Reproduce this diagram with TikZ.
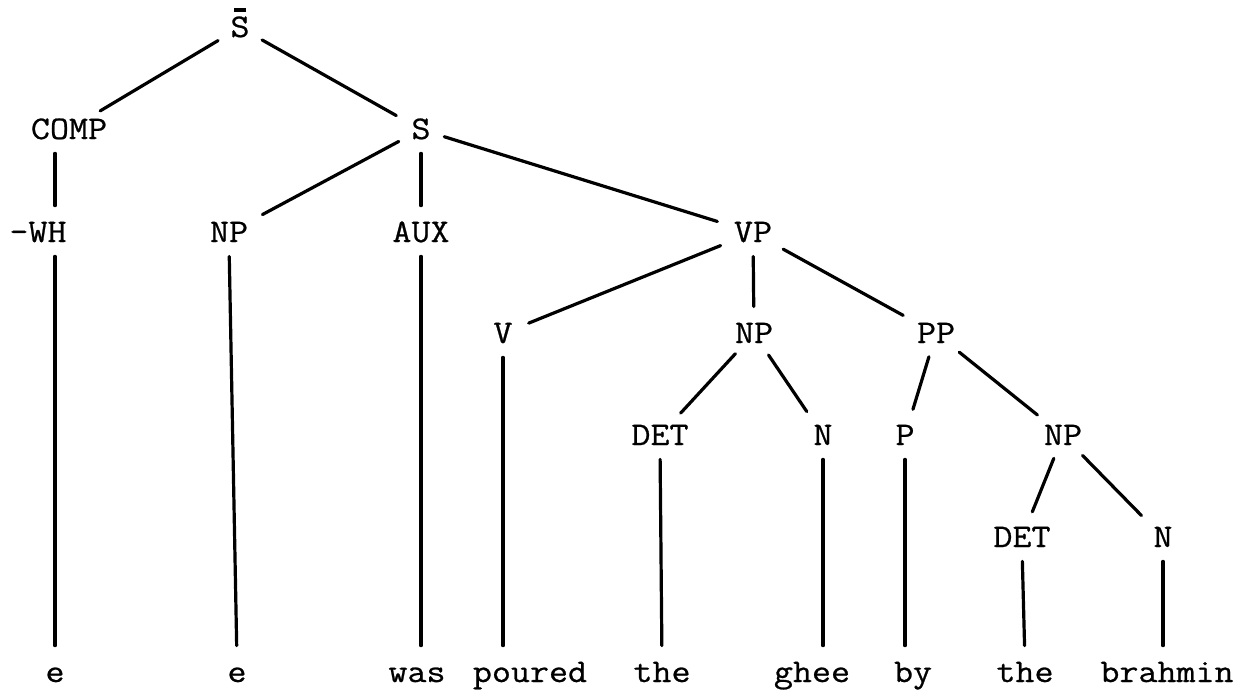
\documentclass[tikz,border=0pt]{standalone}
\usepackage{fontspec}
\newfontfamily\tw{Latin Modern Mono}[FakeStretch=1.12,FakeBold=0.7]
\begin{document}
\begin{tikzpicture}[x=0.5pt,y=-0.5pt,
  lab/.style={anchor=base, inner sep=0pt, text height=9.5pt, text depth=0pt, font=\tw\fontsize{16.5pt}{18pt}\selectfont},
  br/.style={line width=1.6pt, line cap=round, shorten <=7pt, shorten >=8.5pt}]
\useasboundingbox (0,0) rectangle (1238,692);
% nodes
\node[lab] (Sbar) at (240,37) {\makebox[0pt][l]{\hspace{0.12em}\rule[0.75em]{0.36em}{0.14em}}S};
\node[lab] (COMP) at (69,139) {COMP};
\node[lab] (S) at (421,139) {S};
\node[lab] (WH) at (38,242) {-WH};
\node[lab] (NPa) at (229,242) {NP};
\node[lab] (AUX) at (421,242) {AUX};
\node[lab] (VP) at (753,242) {VP};
\node[lab] (V) at (503,343) {V};
\node[lab] (NPb) at (754,343) {NP};
\node[lab] (PP) at (936,343) {PP};
\node[lab] (DETa) at (660,445) {DET};
\node[lab] (Na) at (823,445) {N};
\node[lab] (P) at (905,445) {P};
\node[lab] (NPc) at (1063,445) {NP};
\node[lab] (DETb) at (1022,547) {DET};
\node[lab] (Nb) at (1163,547) {N};
% words
\node[lab] (w1) at (55,682) {e};
\node[lab] (w2) at (237,682) {e};
\node[lab] (w3) at (417,682) {was};
\node[lab] (w4) at (530,682) {poured};
\node[lab] (w5) at (662,682) {the};
\node[lab] (w6) at (812,682) {ghee};
\node[lab] (w7) at (913,682) {by};
\node[lab] (w8) at (1025,682) {the};
\node[lab] (w9) at (1167,682) {brahmin};
% branches
\draw[br] (Sbar) -- (COMP);
\draw[br] (Sbar) -- (S);
\draw[br] (COMP.south -| w1.north) -- (WH.north -| w1.north);
\draw[br] (WH.south -| w1.north) -- (w1.north);
\draw[br] (S) -- (NPa);
\draw[br] (S) -- (AUX);
\draw[br] (S) -- (VP);
\draw[br] (NPa.south) -- (w2.north);
\draw[br] (AUX.south) -- (AUX.south |- w3.north);
\draw[br] (VP) -- (V);
\draw[br] (VP) -- (NPb);
\draw[br] (VP) -- (PP);
\draw[br] (V.south) -- (V.south |- w4.north);
\draw[br] (NPb) -- (DETa);
\draw[br] (NPb) -- (Na);
\draw[br] (PP) -- (P);
\draw[br] (PP) -- (NPc);
\draw[br] (DETa.south) -- (w5.north);
\draw[br] (Na.south) -- (Na.south |- w6.north);
\draw[br] (P.south) -- (P.south |- w7.north);
\draw[br] (NPc) -- (DETb);
\draw[br] (NPc) -- (Nb);
\draw[br] (DETb.south) -- (w8.north);
\draw[br] (Nb.south) -- (Nb.south |- w9.north);
\end{tikzpicture}
\end{document}
